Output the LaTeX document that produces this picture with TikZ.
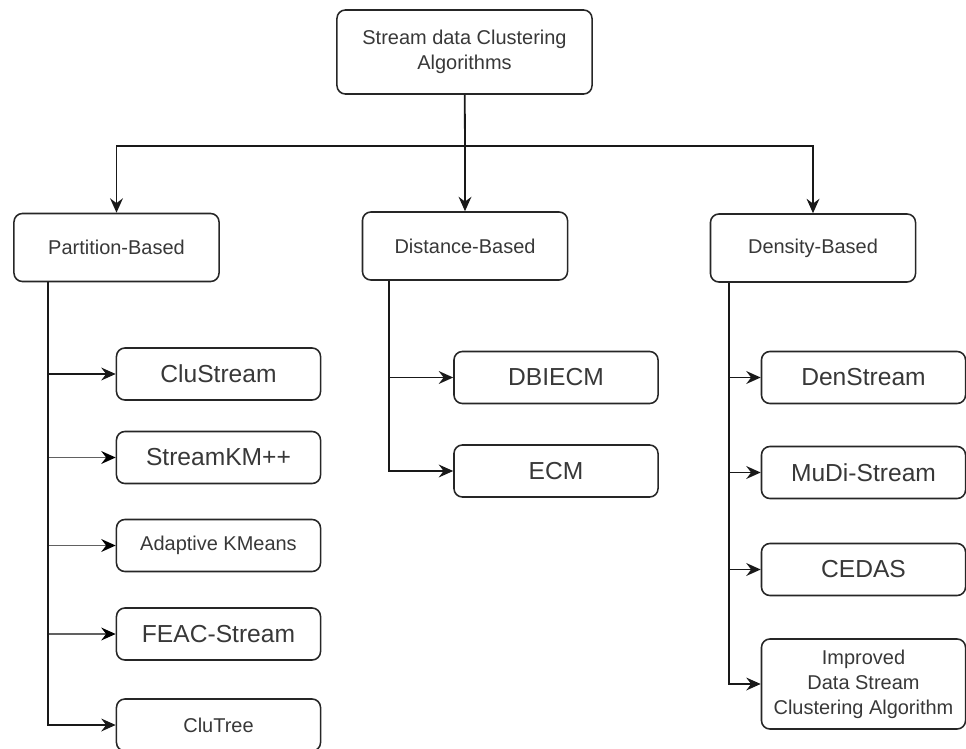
\documentclass[tikz,border=0pt]{standalone}
\usepackage{fontspec}
\setmainfont{Liberation Sans}
\usepackage{tikz}
\usetikzlibrary{arrows.meta,positioning,calc}
\tikzset{
    algo/.style={rectangle, draw=black!85, line width=1.1pt, rounded corners=6pt, align=center, text=black!78, inner sep=0pt},
    rootbox/.style={algo, minimum width=6.375cm, minimum height=2.1cm, font=\fontsize{14.2}{17.8}\selectfont},
    family/.style={algo, minimum width=5.125cm, minimum height=1.7cm, font=\fontsize{14.2}{17.8}\selectfont},
    leaf/.style={algo, minimum width=5.1cm, minimum height=1.3cm, font=\fontsize{17.5}{21}\selectfont},
    smallleaf/.style={leaf, font=\fontsize{14.2}{17.8}\selectfont},
    flow/.style={-{Stealth[length=3.6mm, width=3.2mm, inset=1.2mm]}, line width=1.3pt, draw=black!90},
    greyflow/.style={flow, draw=black!62, -{Stealth[length=3.6mm, width=3.2mm, inset=1.2mm, black]}},
}

\begin{document}
\begin{tikzpicture}[x=0.025cm, y=-0.025cm]
    \useasboundingbox (0,0) rectangle (966,749);
    % top level
    \node[rootbox] (root) at (464.5,52) {Stream data Clustering\\Algorithms};
    \node[family] (part) at (116.5,247.5) {Partition-Based};
    \node[family] (dist) at (465,246) {Distance-Based};
    \node[family] (dens) at (813,248) {Density-Based};

    % partition-based
    \node[leaf] (clustream) at (218.5,374) {CluStream};
    \node[leaf] (streamkm) at (218.5,457.5) {StreamKM++};
    \node[smallleaf] (adaptive) at (218.5,545.5) {Adaptive KMeans};
    \node[leaf] (feac) at (218.5,634) {FEAC-Stream};
    \node[smallleaf] (clutree) at (218.5,725) {CluTree};

    % distance-based
    \node[leaf] (dbiecm) at (556,377.5) {DBIECM};
    \node[leaf] (ecm) at (556,471) {ECM};

    % density-based
    \node[leaf] (denstream) at (863.5,377.5) {DenStream};
    \node[leaf] (mudi) at (863.5,472.5) {MuDi-Stream};
    \node[leaf] (cedas) at (863.5,569.5) {CEDAS};
    \node[smallleaf, minimum height=2.25cm] (improved) at (863.5,684) {Improved\\Data Stream\\Clustering Algorithm};

    \coordinate (split) at (465,146);
    \coordinate (pspine) at (48,0);
    \coordinate (dspine) at (389,0);
    \coordinate (nspine) at (729,0);

    \draw[line width=1.3pt, draw=black!90] (root) -- (split);
    \draw[flow] (split) -| (part);
    \draw[flow] (split) -- (dist);
    \draw[flow] (split) -| (dens);

    \draw[flow] (part.south -| pspine) |- (clustream.west);
    \draw[greyflow] (part.south -| pspine) |- (streamkm.west);
    \draw[greyflow] (part.south -| pspine) |- (adaptive.west);
    \draw[greyflow] (part.south -| pspine) |- (feac.west);
    \draw[flow] (part.south -| pspine) |- (clutree.west);

    \draw[flow] (dist.south -| dspine) |- (dbiecm.west);
    \draw[flow] (dist.south -| dspine) |- (ecm.west);

    \draw[flow] (dens.south -| nspine) |- (denstream.west);
    \draw[flow] (dens.south -| nspine) |- (mudi.west);
    \draw[flow] (dens.south -| nspine) |- (cedas.west);
    \draw[flow] (dens.south -| nspine) |- (improved.west);
\end{tikzpicture}
\end{document}
